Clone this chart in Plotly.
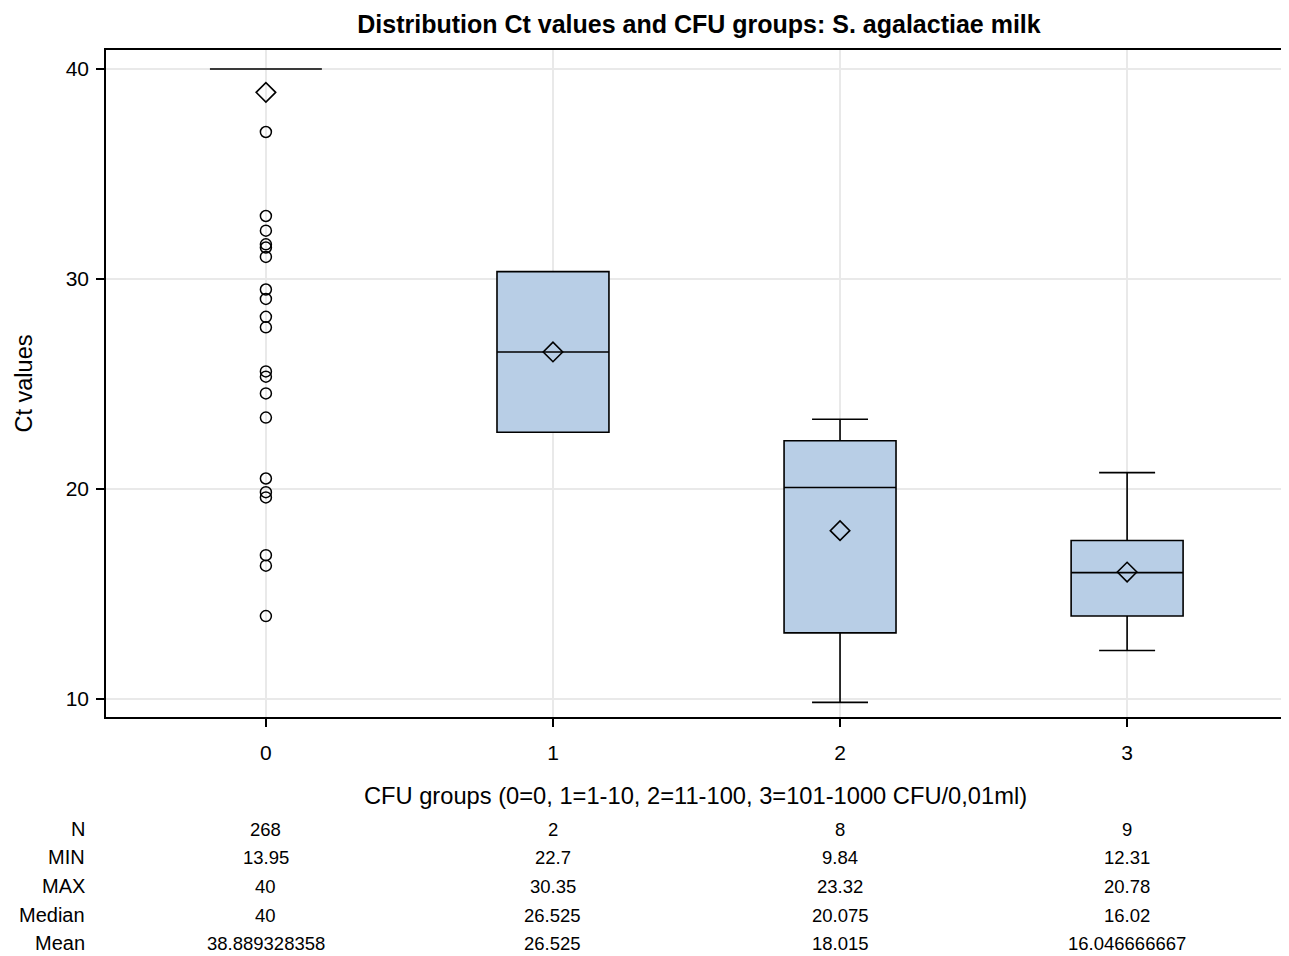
import plotly.graph_objects as go

# ---- data ----
groups = [0, 1, 2, 3]
n_vals = [268, 2, 8, 9]
min_vals = [13.95, 22.7, 9.84, 12.31]
max_vals = [40, 30.35, 23.32, 20.78]
median_vals = [40, 26.525, 20.075, 16.02]
mean_vals = [38.889328358, 26.525, 18.015, 16.046666667]
q1_vals = [40, 22.7, 13.15, 13.95]
q3_vals = [40, 30.35, 22.3, 17.55]
lower_fence = [40, 22.7, 9.84, 12.31]
upper_fence = [40, 30.35, 23.32, 20.78]
outliers_group0 = [37.0, 33.0, 32.3, 31.65, 31.5, 31.05, 29.5, 29.05, 28.2, 27.7,
                   25.6, 25.35, 24.55, 23.4, 20.5, 19.85, 19.6, 16.85, 16.35, 13.95]

table_labels = ["N", "MIN", "MAX", "Median", "Mean"]
table_text = [
    ["268", "2", "8", "9"],
    ["13.95", "22.7", "9.84", "12.31"],
    ["40", "30.35", "23.32", "20.78"],
    ["40", "26.525", "20.075", "16.02"],
    ["38.889328358", "26.525", "18.015", "16.046666667"],
]

FONT = "Arial, Liberation Sans, sans-serif"

fig = go.Figure()

fig.add_trace(go.Box(
    x=groups, q1=q1_vals, median=median_vals, q3=q3_vals,
    lowerfence=lower_fence, upperfence=upper_fence,
    fillcolor="#B8CEE6", line=dict(color="black", width=1.6),
    width=0.39, whiskerwidth=0.5, boxpoints=False, hoverinfo="skip",
    showlegend=False,
))

fig.add_trace(go.Scatter(
    x=[0] * len(outliers_group0), y=outliers_group0, mode="markers",
    marker=dict(symbol="circle-open", size=11, color="black", line=dict(width=1.5)),
    showlegend=False,
))

fig.add_trace(go.Scatter(
    x=groups, y=mean_vals, mode="markers",
    marker=dict(symbol="diamond-open", size=15, color="black", line=dict(width=1.6)),
    showlegend=False,
))

# table below the plot
row_shifts = [-112, -140, -169, -198, -226]
for r, lab in enumerate(table_labels):
    fig.add_annotation(
        x=0, xref="paper", y=0, yref="paper", text=lab, showarrow=False,
        xanchor="right", yanchor="middle", xshift=-19, yshift=row_shifts[r],
        font=dict(family=FONT, size=20, color="black"),
    )
    for g, txt in zip(groups, table_text[r]):
        fig.add_annotation(
            x=g, xref="x", y=0, yref="paper", text=txt, showarrow=False,
            xanchor="center", yanchor="middle", yshift=row_shifts[r],
            font=dict(family=FONT, size=18.5, color="black"),
        )

fig.update_layout(
    width=1281, height=948,
    paper_bgcolor="white", plot_bgcolor="white",
    margin=dict(l=98, r=2, t=42, b=239),
    title=dict(
        text="<b>Distribution Ct values and CFU groups: S. agalactiae milk</b>",
        x=0.5394, xanchor="center", y=0.983, yanchor="middle",
        font=dict(family=FONT, size=25, color="black"),
    ),
    font=dict(family=FONT, color="black"),
)

fig.update_xaxes(
    range=[-0.557, 3.55], tickvals=groups, ticktext=[str(g) for g in groups],
    ticks="outside", ticklen=8, tickwidth=1.5, tickcolor="black",
    ticklabelstandoff=8,
    showgrid=True, gridcolor="#E9E9E9", gridwidth=1.5, zeroline=False,
    showline=True, linecolor="black", linewidth=1.5, mirror=True,
    tickfont=dict(family=FONT, size=21, color="black"),
    title=dict(text="CFU groups (0=0, 1=1-10, 2=11-100, 3=101-1000 CFU/0,01ml)",
               font=dict(family=FONT, size=23.7, color="black"), standoff=24),
)
fig.update_yaxes(
    range=[9.143, 40.905], tickvals=[10, 20, 30, 40],
    ticks="outside", ticklen=8, tickwidth=1.5, tickcolor="black",
    ticklabelstandoff=3,
    showgrid=True, gridcolor="#E9E9E9", gridwidth=1.5, zeroline=False,
    showline=True, linecolor="black", linewidth=1.5, mirror=True,
    tickfont=dict(family=FONT, size=21, color="black"),
    title=dict(text="Ct values", font=dict(family=FONT, size=23.5, color="black"), standoff=26),
)

fig.write_html("out.html")
